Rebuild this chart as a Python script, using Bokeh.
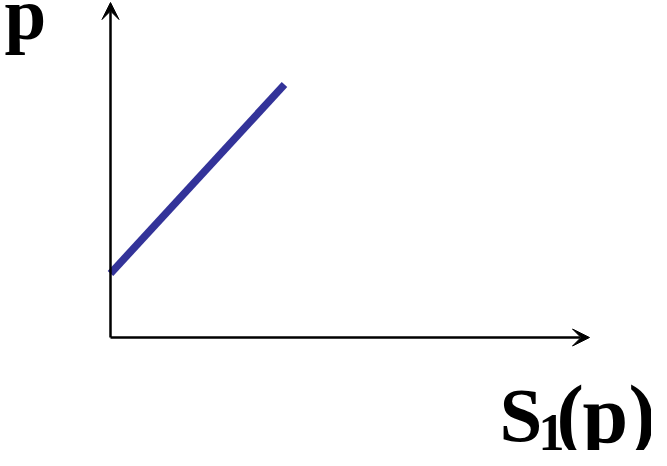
from bokeh.plotting import figure
from bokeh.models import Range1d, Arrow, VeeHead, Label
from bokeh.embed import file_html
from bokeh.resources import INLINE

# Data (arbitrary units; origin at the axes intersection)
supply_s = [0.0, 1.74]      # S1(p) values along the supply line
supply_p = [0.64, 2.53]     # p values along the supply line
axis_x_end = 4.79           # length of horizontal axis arrow
axis_y_end = 3.35           # length of vertical axis arrow
y_label = "p"
x_label_parts = ["S", "1", "(", "p", ")"]

W, H = 651, 450
p = figure(width=W, height=H, output_backend="svg", toolbar_location=None,
           x_range=Range1d(-1.10, 5.41), y_range=Range1d(-1.13, 3.37),
           min_border=0)
p.axis.visible = False
p.grid.visible = False
p.outline_line_color = None
p.background_fill_color = "white"
p.border_fill_color = "white"

# Axes as arrows
for xe, ye in [(axis_x_end, 0), (0, axis_y_end)]:
    p.add_layout(Arrow(x_start=0, y_start=0, x_end=xe, y_end=ye,
                       line_width=2.5, line_color="black",
                       end=VeeHead(size=17, fill_color="black", line_color="black", line_width=1)))

# Supply line
p.line(supply_s, supply_p, line_color="#333399", line_width=7.5, line_cap="butt")

font = "Liberation Serif"

def lab(x, y, t, size):
    p.add_layout(Label(x=x, y=y, text=t, text_font=font, text_font_style="bold",
                       text_font_size=f"{size}px", text_color="black",
                       text_baseline="alphabetic"))

lab(-1.06, 3.24, y_label, 75)
xs = [3.89, 4.28, 4.46, 4.72, 5.18]
ys = [-0.77, -0.95, -0.77, -0.77, -0.77]
sizes = [77, 52, 82, 82, 82]
for x, y, t, s in zip(xs, ys, x_label_parts, sizes):
    lab(x, y, t, s)

open("out.html", "w").write(file_html(p, INLINE))
